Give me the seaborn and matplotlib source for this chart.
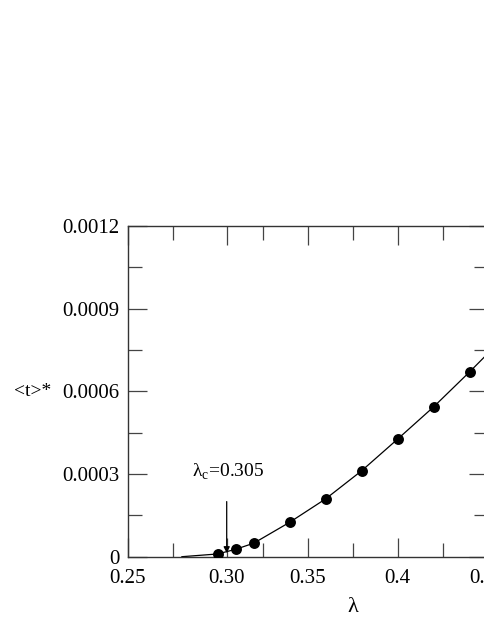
import matplotlib
matplotlib.use("Agg")
import matplotlib.pyplot as plt
import seaborn as sns
import pandas as pd

# measured points
lam = [0.300, 0.310, 0.320, 0.340, 0.360, 0.380, 0.400, 0.420, 0.440]
t_star = [1.0e-5, 2.7e-5, 4.9e-5, 1.25e-4, 2.1e-4, 3.12e-4, 4.27e-4, 5.44e-4, 6.71e-4]

# connecting curve (runs from the threshold out past the last point)
curve_lam = [0.280, 0.300, 0.310, 0.320, 0.340, 0.360, 0.380, 0.400, 0.420, 0.440, 0.452]
curve_t = [0.0, 1.0e-5, 2.7e-5, 4.9e-5, 1.25e-4, 2.1e-4, 3.12e-4, 4.27e-4, 5.44e-4, 6.71e-4, 7.5e-4]

x_major = [0.25, 0.305, 0.35, 0.40, 0.45]
x_labels = ["0.25", "0.30", "0.35", "0.4", "0.45"]
x_minor = [0.275, 0.325, 0.375, 0.425]
y_major = [0.0, 0.0003, 0.0006, 0.0009, 0.0012]
y_labels = ["0", "0.0003", "0.0006", "0.0009", "0.0012"]
y_minor = [0.00015, 0.00045, 0.00075, 0.00105]

lam_c = 0.305

sns.set_theme(style="ticks")
plt.rcParams["font.family"] = ["Liberation Serif", "DejaVu Serif"]
plt.rcParams["mathtext.fontset"] = "custom"
plt.rcParams["mathtext.rm"] = "Liberation Serif"
plt.rcParams["text.color"] = "black"
plt.rcParams["axes.labelcolor"] = "black"

points = pd.DataFrame({"lam": lam, "t": t_star})
curve = pd.DataFrame({"lam": curve_lam, "t": curve_t})

fig = plt.figure(figsize=(4.85, 6.27), dpi=100)
ax = fig.add_axes([0.2633, 0.1121, 0.7423, 0.5275])

sns.lineplot(data=curve, x="lam", y="t", ax=ax, color="black", linewidth=0.9,
             sort=False, estimator=None)
sns.scatterplot(data=points, x="lam", y="t", ax=ax, color="black", s=62,
                edgecolor="black", linewidth=0, zorder=3)

ax.set_xlim(0.25, 0.45)
ax.set_ylim(0, 0.0012)
ax.set_xticks(x_major)
ax.set_xticklabels(x_labels)
ax.set_xticks(x_minor, minor=True)
ax.set_yticks(y_major)
ax.set_yticklabels(y_labels)
ax.set_yticks(y_minor, minor=True)

for side in ["left", "bottom", "top", "right"]:
    ax.spines[side].set_visible(True)
    ax.spines[side].set_color("#333333")
    ax.spines[side].set_linewidth(1.0)

ax.tick_params(which="both", direction="in", top=True, right=True,
               color="#444444", width=0.9, labelsize=15, labelcolor="black")
ax.tick_params(which="major", length=13.5, pad=6)
ax.tick_params(which="minor", length=10)
ax.tick_params(axis="x", which="major", pad=9)

ax.set_xlabel("λ", fontsize=16)
ax.xaxis.set_label_coords(0.625, -0.125)
ax.set_ylabel("<t>*", fontsize=14, rotation=0, ha="center", va="center")
ax.yaxis.set_label_coords(-0.263, 0.5)

ax.annotate("", xy=(lam_c, 1.3e-5), xytext=(lam_c, 2.0e-4),
            arrowprops=dict(arrowstyle="-|>", color="black", lw=0.9,
                            mutation_scale=9, shrinkA=0, shrinkB=0))
ax.text(0.2855, 2.9e-4, r"λ$_{\mathrm{c}}$=0.305", fontsize=14,
        ha="left", va="baseline")

fig.savefig("out.png", dpi=100)
